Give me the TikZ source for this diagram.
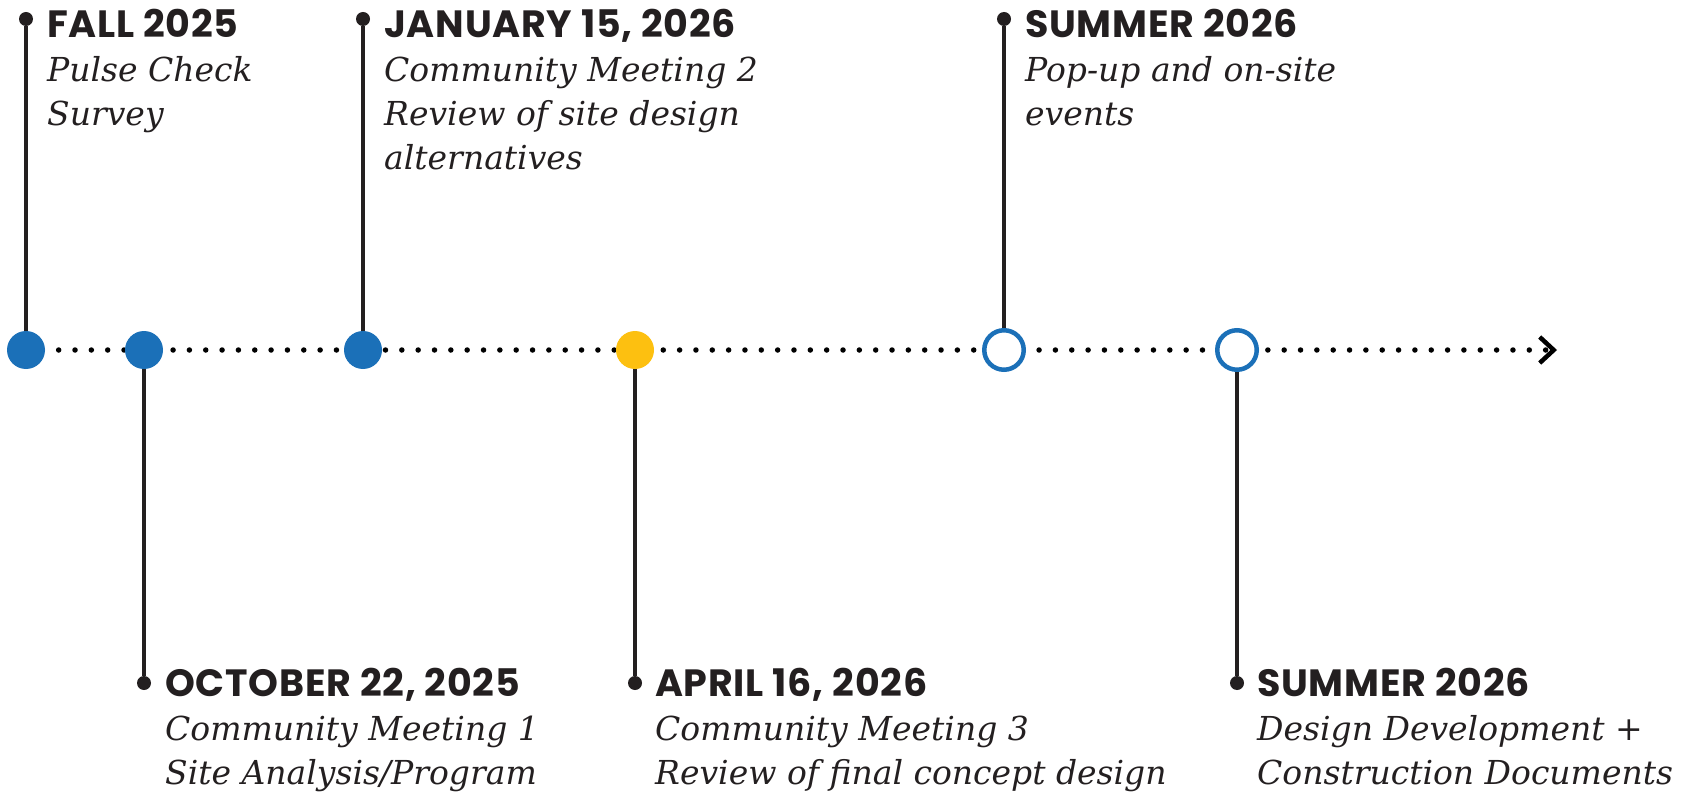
\documentclass[tikz,border=0pt]{standalone}
\usepackage{fontspec}
\newfontfamily\ttlfont{Poppins}[LetterSpace=2]
\newfontfamily\bodyfont{DejaVu Serif}
\usetikzlibrary{arrows.meta}
\pgfdeclarelayer{bg}
\pgfsetlayers{bg,main}
\definecolor{tlblue}{HTML}{1B70B8}
\definecolor{tlyellow}{HTML}{FDC010}
\definecolor{ink}{HTML}{231F20}
\newcommand\datehead[1]{{\ttlfont\upshape\bfseries\fontsize{38}{44}\selectfont #1}}

\begin{document}
\begin{tikzpicture}[
  x=1pt, y=-1pt,
  ms/.style={circle, inner sep=0pt, minimum size=38pt, fill=tlblue},
  msnow/.style={ms, fill=tlyellow},
  msnext/.style={circle, inner sep=0pt, minimum size=39.5pt, draw=tlblue, line width=4.5pt, fill=white},
  pin/.style={circle, inner sep=0pt, minimum size=14pt, fill=ink},
  stem/.style={draw=ink, line width=3.2pt},
  axis/.style={draw=black, line width=5.5pt, line cap=round, dash pattern=on 0pt off 16.34pt},
  lbl/.style={anchor=north west, inner sep=0pt, align=left, text=ink,
    font=\bodyfont\itshape\fontsize{33}{44}\selectfont}
]
\useasboundingbox (0,0) rectangle (1700,794);

% milestones on the time axis
\node[ms] (m1) at (26,350) {};
\node[ms] (m2) at (144,350) {};
\node[ms] (m3) at (363,350) {};
\node[msnow] (m4) at (635,350) {};
\node[msnext] (m5) at (1004,350) {};
\node[msnext] (m6) at (1237,350) {};
\coordinate (axend) at (1557,350);

% pins
\node[pin] (t1) at (26,19) {};
\node[pin] (t2) at (144,683) {};
\node[pin] (t3) at (363,19) {};
\node[pin] (t4) at (635,683) {};
\node[pin] (t5) at (1004,19) {};
\node[pin] (t6) at (1237,683) {};

% labels
\node[lbl] (l1) at (47,9) {\datehead{FALL 2025}\\Pulse Check\\Survey};
\node[lbl] (l2) at (165,668) {\datehead{OCTOBER 22, 2025}\\Community Meeting 1\\Site Analysis/Program};
\node[lbl] (l3) at (384,9) {\datehead{JANUARY 15, 2026}\\Community Meeting 2\\Review of site design\\alternatives};
\node[lbl] (l4) at (655,668) {\datehead{APRIL 16, 2026}\\Community Meeting 3\\Review of final concept design};
\node[lbl] (l5) at (1025,9) {\datehead{SUMMER 2026}\\Pop-up and on-site\\events};
\node[lbl] (l6) at (1257,668) {\datehead{SUMMER 2026}\\Design Development +\\Construction Documents};

\begin{pgfonlayer}{bg}
\draw[axis, -{Straight Barb[length=14pt, width=26pt, line width=4.5pt]}] (m1.center) -- (axend);
\end{pgfonlayer}

\draw[stem] (t1) -- (m1);
\draw[stem] (t2) -- (m2);
\draw[stem] (t3) -- (m3);
\draw[stem] (t4) -- (m4);
\draw[stem] (t5) -- (m5);
\draw[stem] (t6) -- (m6);
\end{tikzpicture}
\end{document}
